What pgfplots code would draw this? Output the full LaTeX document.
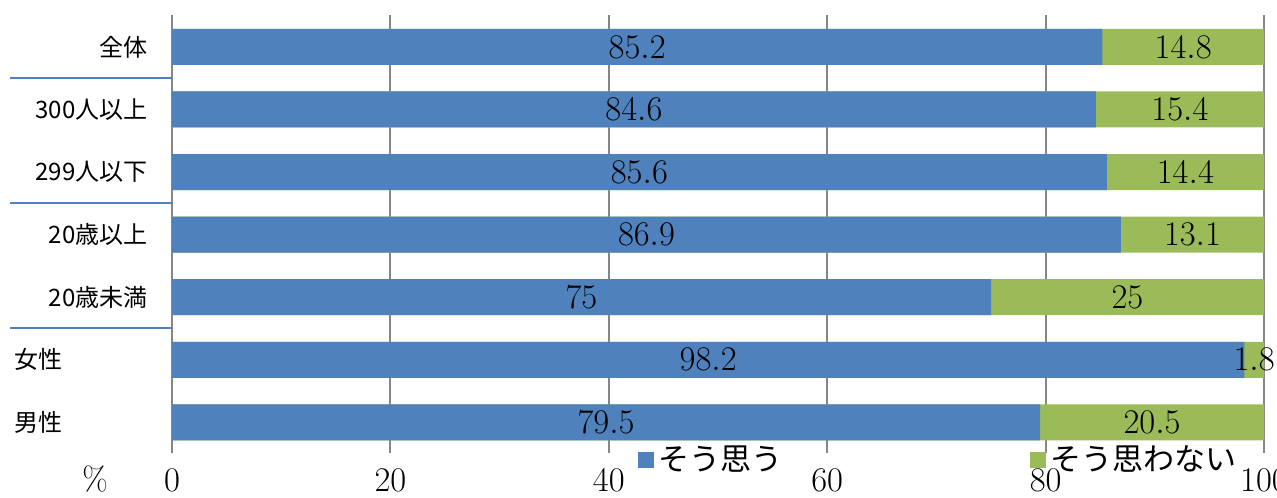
\documentclass[border=0pt]{standalone}
\usepackage{pgfplots}
\pgfplotsset{compat=1.18}
\usepackage{pgfplotstable}
\usepackage{fontspec}
\newfontfamily\jp{Noto Sans CJK JP}
\definecolor{blueC}{HTML}{4F81BD}
\definecolor{greenC}{HTML}{9BBB59}
\definecolor{gridC}{HTML}{868686}

% y: 0 = bottom row (男性), 6 = top row (全体)
\pgfplotstableread{
y a b
6 85.2 14.8
5 84.6 15.4
4 85.6 14.4
3 86.9 13.1
2 75 25
1 98.2 1.8
0 79.5 20.5
}\data

\begin{document}
\begin{tikzpicture}
\useasboundingbox (-86pt,-22pt) rectangle (552.5pt,226.5pt);
\begin{axis}[
  at={(0,0)}, anchor=south west,
  scale only axis,
  width=546pt, height=219pt,
  xmin=0, xmax=100,
  ymin=-0.49, ymax=6.51,
  clip=false,
  axis line style={draw=none},
  xtick={0,20,...,100},
  major tick length=0pt,
  xmajorgrids,
  major grid style={gridC, line width=1pt},
  xticklabel style={anchor=base, yshift=-19.5pt, font=\fontsize{16.5}{18}\selectfont},
  ytick={0,...,6},
  yticklabels={{\makebox[66.5pt][l]{男性}},{\makebox[66.5pt][l]{女性}},20歳未満,20歳以上,299人以下,300人以上,全体},
  yticklabel style={anchor=east, inner sep=0pt, xshift=-12pt, font=\jp\fontsize{12}{14}\selectfont},
  every node near coord/.style={anchor=center, font=\fontsize{17}{19}\selectfont, text=black},
  reverse legend,
  legend columns=2,
  legend style={draw=none, fill=none, at={(0.421,-0.016)}, anchor=west,
    font=\jp\fontsize{15.5}{18}\selectfont,
    /tikz/every even column/.append style={column sep=122pt}},
]
% green segment (そう思わない) drawn full length, blue on top
\addplot[xbar, bar width=0.575, bar shift=0pt, fill=greenC, draw=none,
  legend image code/.code={\fill[greenC] (0pt,-4pt) rectangle (8pt,4pt);}]
  table[x expr=\thisrow{a}+\thisrow{b}, y=y] {\data};
\addlegendentry{そう思わない}
\addplot[xbar, bar width=0.575, bar shift=0pt, fill=blueC, draw=none,
  legend image code/.code={\fill[blueC] (0pt,-4pt) rectangle (8pt,4pt);}]
  table[x=a, y=y] {\data};
\addlegendentry{そう思う}
% value labels centred in each segment
\addplot[draw=none, mark=none, forget plot, nodes near coords, point meta=explicit]
  table[x expr=\thisrow{a}/2, y=y, meta=a] {\data};
\addplot[draw=none, mark=none, forget plot, nodes near coords, point meta=explicit]
  table[x expr=\thisrow{a}+\thisrow{b}/2, y=y, meta=b] {\data};
% group separators
\draw[blueC, line width=1pt] (axis cs:-14.8,5.5) -- (axis cs:0,5.5);
\draw[blueC, line width=1pt] (axis cs:-14.8,3.5) -- (axis cs:0,3.5);
\draw[blueC, line width=1pt] (axis cs:-14.8,1.5) -- (axis cs:0,1.5);
\node[font=\fontsize{16.5}{18}\selectfont] at (rel axis cs:-0.0705,-0.06) {\%};
\end{axis}
\end{tikzpicture}
\end{document}
